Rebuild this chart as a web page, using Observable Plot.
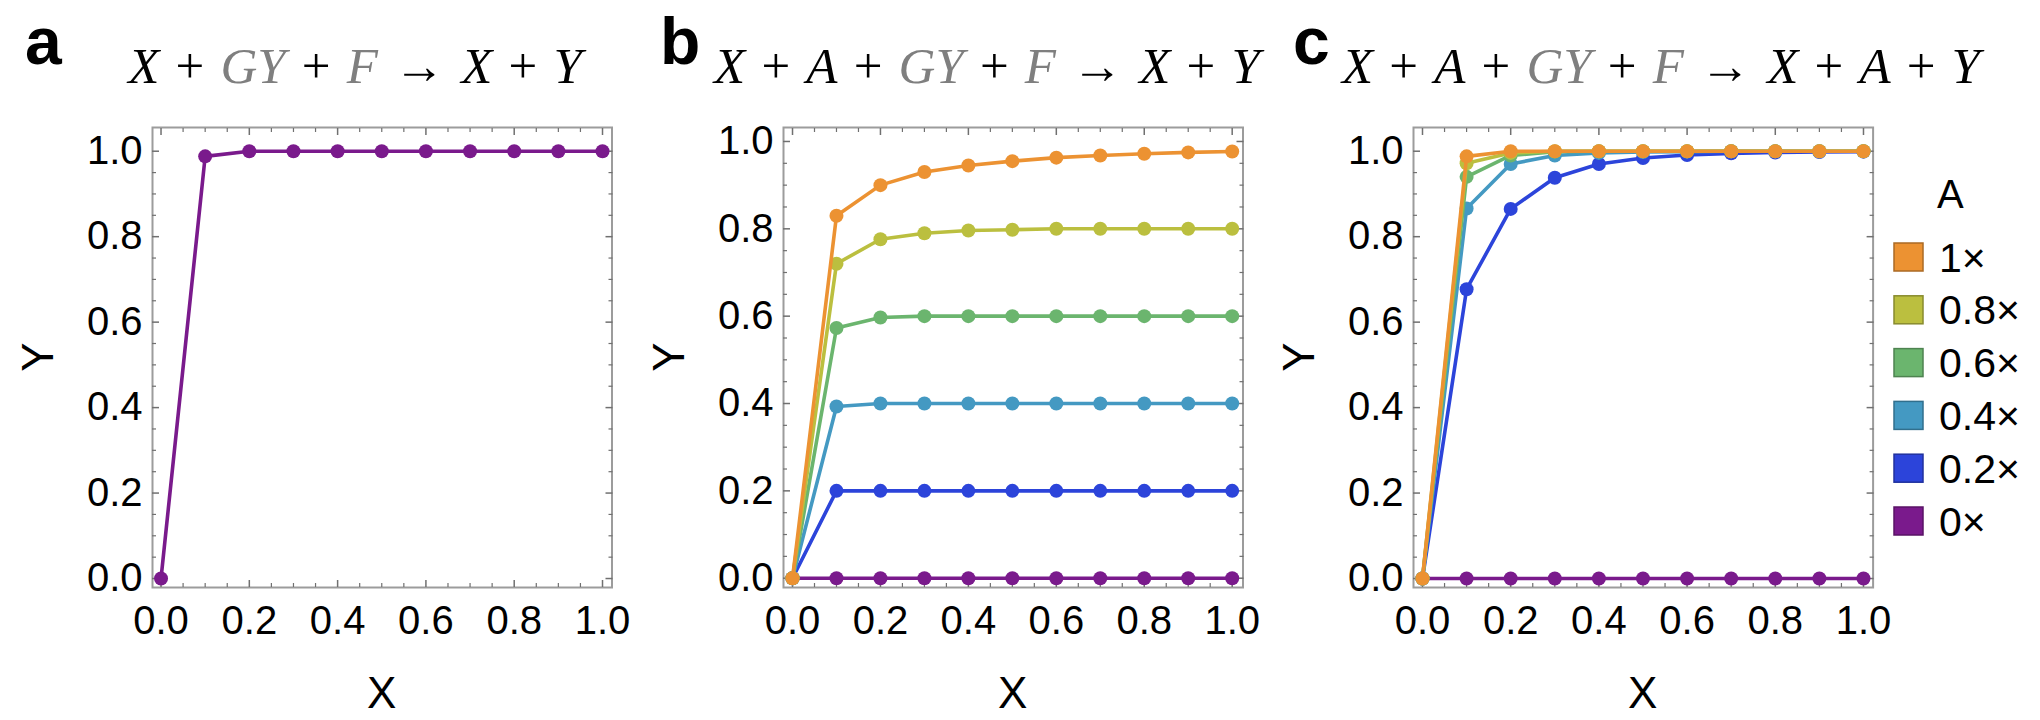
<!DOCTYPE html>
<html>
<head>
<meta charset="utf-8">
<script src="https://cdn.jsdelivr.net/npm/d3@7"></script>
<script src="https://cdn.jsdelivr.net/npm/@observablehq/plot@0.6"></script>
<style>
  html, body { margin: 0; padding: 0; background: #fff; }
  #root { position: relative; width: 2040px; height: 720px; overflow: hidden; background: #fff; }
  .panel { position: absolute; top: 0; }
  #overlay { position: absolute; left: 0; top: 0; pointer-events: none; }
</style>
</head>
<body>
<div id="root"></div>
<script>
// ---------------- data ----------------
const xValues = [0, 0.1, 0.2, 0.3, 0.4, 0.5, 0.6, 0.7, 0.8, 0.9, 1.0];

const seriesNames  = ["1×", "0.8×", "0.6×", "0.4×", "0.2×", "0×"];
const seriesColors = ["#EC9232", "#BBBF3F", "#6BB56E", "#4499C2", "#2C44DA", "#7A1A8C"];

// panel a : X + GY + F -> X + Y
const panelA_Y = [0, 0.988, 1, 1, 1, 1, 1, 1, 1, 1, 1];

// panel b : X + A + GY + F -> X + Y
const panelB_1x  = [0, 0.830, 0.900, 0.930, 0.945, 0.955, 0.963, 0.968, 0.972, 0.975, 0.977];
const panelB_08x = [0, 0.720, 0.776, 0.790, 0.796, 0.798, 0.800, 0.800, 0.800, 0.800, 0.800];
const panelB_06x = [0, 0.573, 0.597, 0.600, 0.600, 0.600, 0.600, 0.600, 0.600, 0.600, 0.600];
const panelB_04x = [0, 0.393, 0.400, 0.400, 0.400, 0.400, 0.400, 0.400, 0.400, 0.400, 0.400];
const panelB_02x = [0, 0.200, 0.200, 0.200, 0.200, 0.200, 0.200, 0.200, 0.200, 0.200, 0.200];
const panelB_0x  = [0, 0, 0, 0, 0, 0, 0, 0, 0, 0, 0];

// panel c : X + A + GY + F -> X + A + Y
const panelC_1x  = [0, 0.988, 1.000, 1.000, 1.000, 1.000, 1.000, 1.000, 1.000, 1.000, 1.000];
const panelC_08x = [0, 0.972, 0.996, 1.000, 1.000, 1.000, 1.000, 1.000, 1.000, 1.000, 1.000];
const panelC_06x = [0, 0.940, 0.990, 0.999, 1.000, 1.000, 1.000, 1.000, 1.000, 1.000, 1.000];
const panelC_04x = [0, 0.866, 0.970, 0.990, 0.996, 0.998, 0.999, 1.000, 1.000, 1.000, 1.000];
const panelC_02x = [0, 0.677, 0.865, 0.938, 0.970, 0.984, 0.991, 0.995, 0.997, 0.998, 0.999];
const panelC_0x  = [0, 0, 0, 0, 0, 0, 0, 0, 0, 0, 0];

const majorTicks = [0, 0.2, 0.4, 0.6, 0.8, 1.0];
const tickLabels = ["0.0", "0.2", "0.4", "0.6", "0.8", "1.0"];
const minorTicks = [0.05, 0.1, 0.15, 0.25, 0.3, 0.35, 0.45, 0.5, 0.55, 0.65, 0.7, 0.75, 0.85, 0.9, 0.95];

const panelLetters = ["a", "b", "c"];
const xAxisLabel = "X";
const yAxisLabel = "Y";
const legendTitle = "A";

// title tokens: [text, italic, gray]
const titleA = [["X",1,0],[" + ",0,0],["GY",1,1],[" + ",0,0],["F",1,1],[" → ",0,0],["X",1,0],[" + ",0,0],["Y",1,0]];
const titleB = [["X",1,0],[" + ",0,0],["A",1,0],[" + ",0,0],["GY",1,1],[" + ",0,0],["F",1,1],[" → ",0,0],["X",1,0],[" + ",0,0],["Y",1,0]];
const titleC = [["X",1,0],[" + ",0,0],["A",1,0],[" + ",0,0],["GY",1,1],[" + ",0,0],["F",1,1],[" → ",0,0],["X",1,0],[" + ",0,0],["A",1,0],[" + ",0,0],["Y",1,0]];

// ---------------- build ----------------
const root = document.getElementById("root");
const FONT = "'Liberation Sans', Arial, sans-serif";
const frameColor = "#9c9c9c";
const tickColor = "#707070";

function tidy(list) {
  return list.map(([name, vals]) => vals.map((y, i) => ({A: name, x: xValues[i], y})));
}

function makePanel({left, width, marginLeft, marginRight, xDomain, yDomain, series}) {
  const groups = tidy(series);
  const marks = [
    Plot.frame({stroke: frameColor, strokeWidth: 2}),
  ];
  for (const anchor of ["bottom", "top"]) {
    marks.push(Plot.axisX(majorTicks, {anchor, tickSize: -7, fill: "none", stroke: tickColor, strokeWidth: 1.5, label: null}));
    marks.push(Plot.axisX(minorTicks, {anchor, tickSize: -4, fill: "none", stroke: tickColor, strokeWidth: 1.2, label: null}));
  }
  for (const anchor of ["left", "right"]) {
    marks.push(Plot.axisY(majorTicks, {anchor, tickSize: -7, fill: "none", stroke: tickColor, strokeWidth: 1.5, label: null}));
    marks.push(Plot.axisY(minorTicks, {anchor, tickSize: -4, fill: "none", stroke: tickColor, strokeWidth: 1.2, label: null}));
  }
  marks.push(Plot.axisX(majorTicks, {anchor: "bottom", tickSize: 0, tickPadding: 18, fontSize: 40, fill: "#000",
    tickFormat: d => tickLabels[majorTicks.indexOf(d)], label: null}));
  marks.push(Plot.axisY(majorTicks, {anchor: "left", tickSize: 0, tickPadding: 10, fontSize: 40, fill: "#000",
    tickFormat: d => tickLabels[majorTicks.indexOf(d)], label: null}));
  for (const g of groups) {
    marks.push(Plot.line(g, {x: "x", y: "y", stroke: "A", strokeWidth: 3.6, curve: "linear"}));
    marks.push(Plot.dot(g, {x: "x", y: "y", fill: "A", r: 7, stroke: "none"}));
  }
  const svg = Plot.plot({
    width, height: 720,
    marginLeft, marginRight, marginTop: 127, marginBottom: 133,
    x: {domain: xDomain},
    y: {domain: yDomain},
    color: {domain: seriesNames, range: seriesColors},
    style: {fontFamily: FONT, fontSize: "40px", background: "transparent", overflow: "visible", color: "#000"},
    marks
  });
  const div = document.createElement("div");
  div.className = "panel";
  div.style.left = left + "px";
  div.style.width = width + "px";
  div.appendChild(svg);
  root.appendChild(div);
}

makePanel({
  left: 0, width: 640, marginLeft: 152, marginRight: 28.5,
  xDomain: [-0.0193, 1.0215], yDomain: [-0.021, 1.0555],
  series: [["0×", panelA_Y]]
});
makePanel({
  left: 640, width: 640, marginLeft: 143, marginRight: 37.5,
  xDomain: [-0.0205, 1.0246], yDomain: [-0.0213, 1.032],
  series: [["0×", panelB_0x], ["0.2×", panelB_02x], ["0.4×", panelB_04x], ["0.6×", panelB_06x], ["0.8×", panelB_08x], ["1×", panelB_1x]]
});
makePanel({
  left: 1280, width: 640, marginLeft: 133, marginRight: 47.4,
  xDomain: [-0.0204, 1.0218], yDomain: [-0.021, 1.0555],
  series: [["0×", panelC_0x], ["0.2×", panelC_02x], ["0.4×", panelC_04x], ["0.6×", panelC_06x], ["0.8×", panelC_08x], ["1×", panelC_1x]]
});

// ---------------- overlay text ----------------
const ov = d3.select(root).append("svg").attr("id", "overlay").attr("width", 2040).attr("height", 720);

// panel letters
const letterX = [25, 660, 1293];
panelLetters.forEach((t, i) => {
  ov.append("text").attr("x", letterX[i]).attr("y", 64)
    .attr("font-family", FONT).attr("font-weight", "bold").attr("font-size", 66).attr("fill", "#000").text(t);
});

// titles
function drawTitle(tokens, cx) {
  const t = ov.append("text").attr("x", cx).attr("y", 83).attr("text-anchor", "middle")
    .attr("font-family", "'Liberation Serif', 'DejaVu Serif', serif").attr("font-size", 51)
    .style("white-space", "pre").style("word-spacing", "3.4px");
  for (const [s, it, gr] of tokens) {
    t.append("tspan").attr("font-style", it ? "italic" : "normal").attr("fill", gr ? "#7f7f7f" : "#000").text(s);
  }
}
drawTitle(titleA, 355);
drawTitle(titleB, 987);
drawTitle(titleC, 1661);

// axis labels
const frameCentersX = [381.7, 1012.7, 1642.8];
const yLabelX = [37, 668, 1298];
frameCentersX.forEach((cx, i) => {
  ov.append("text").attr("x", cx).attr("y", 708).attr("text-anchor", "middle")
    .attr("font-family", FONT).attr("font-size", 44).attr("fill", "#000").text(xAxisLabel);
  ov.append("text").attr("transform", `translate(${yLabelX[i] + 16},357) rotate(-90)`).attr("text-anchor", "middle")
    .attr("font-family", FONT).attr("font-size", 44).attr("fill", "#000").text(yAxisLabel);
});

// legend
ov.append("text").attr("x", 1937).attr("y", 208).attr("font-family", FONT).attr("font-size", 40).attr("fill", "#000").text(legendTitle);
seriesNames.forEach((name, i) => {
  const cy = 257 + i * 52.8;
  const c = seriesColors[i];
  ov.append("rect").attr("x", 1894).attr("y", cy - 14).attr("width", 29).attr("height", 28)
    .attr("fill", c).attr("stroke", d3.color(c).darker(0.9)).attr("stroke-width", 1.5);
  ov.append("text").attr("x", 1939).attr("y", cy + 14.5).attr("font-family", FONT).attr("font-size", 41).attr("fill", "#000").text(name);
});
</script>
</body>
</html>
